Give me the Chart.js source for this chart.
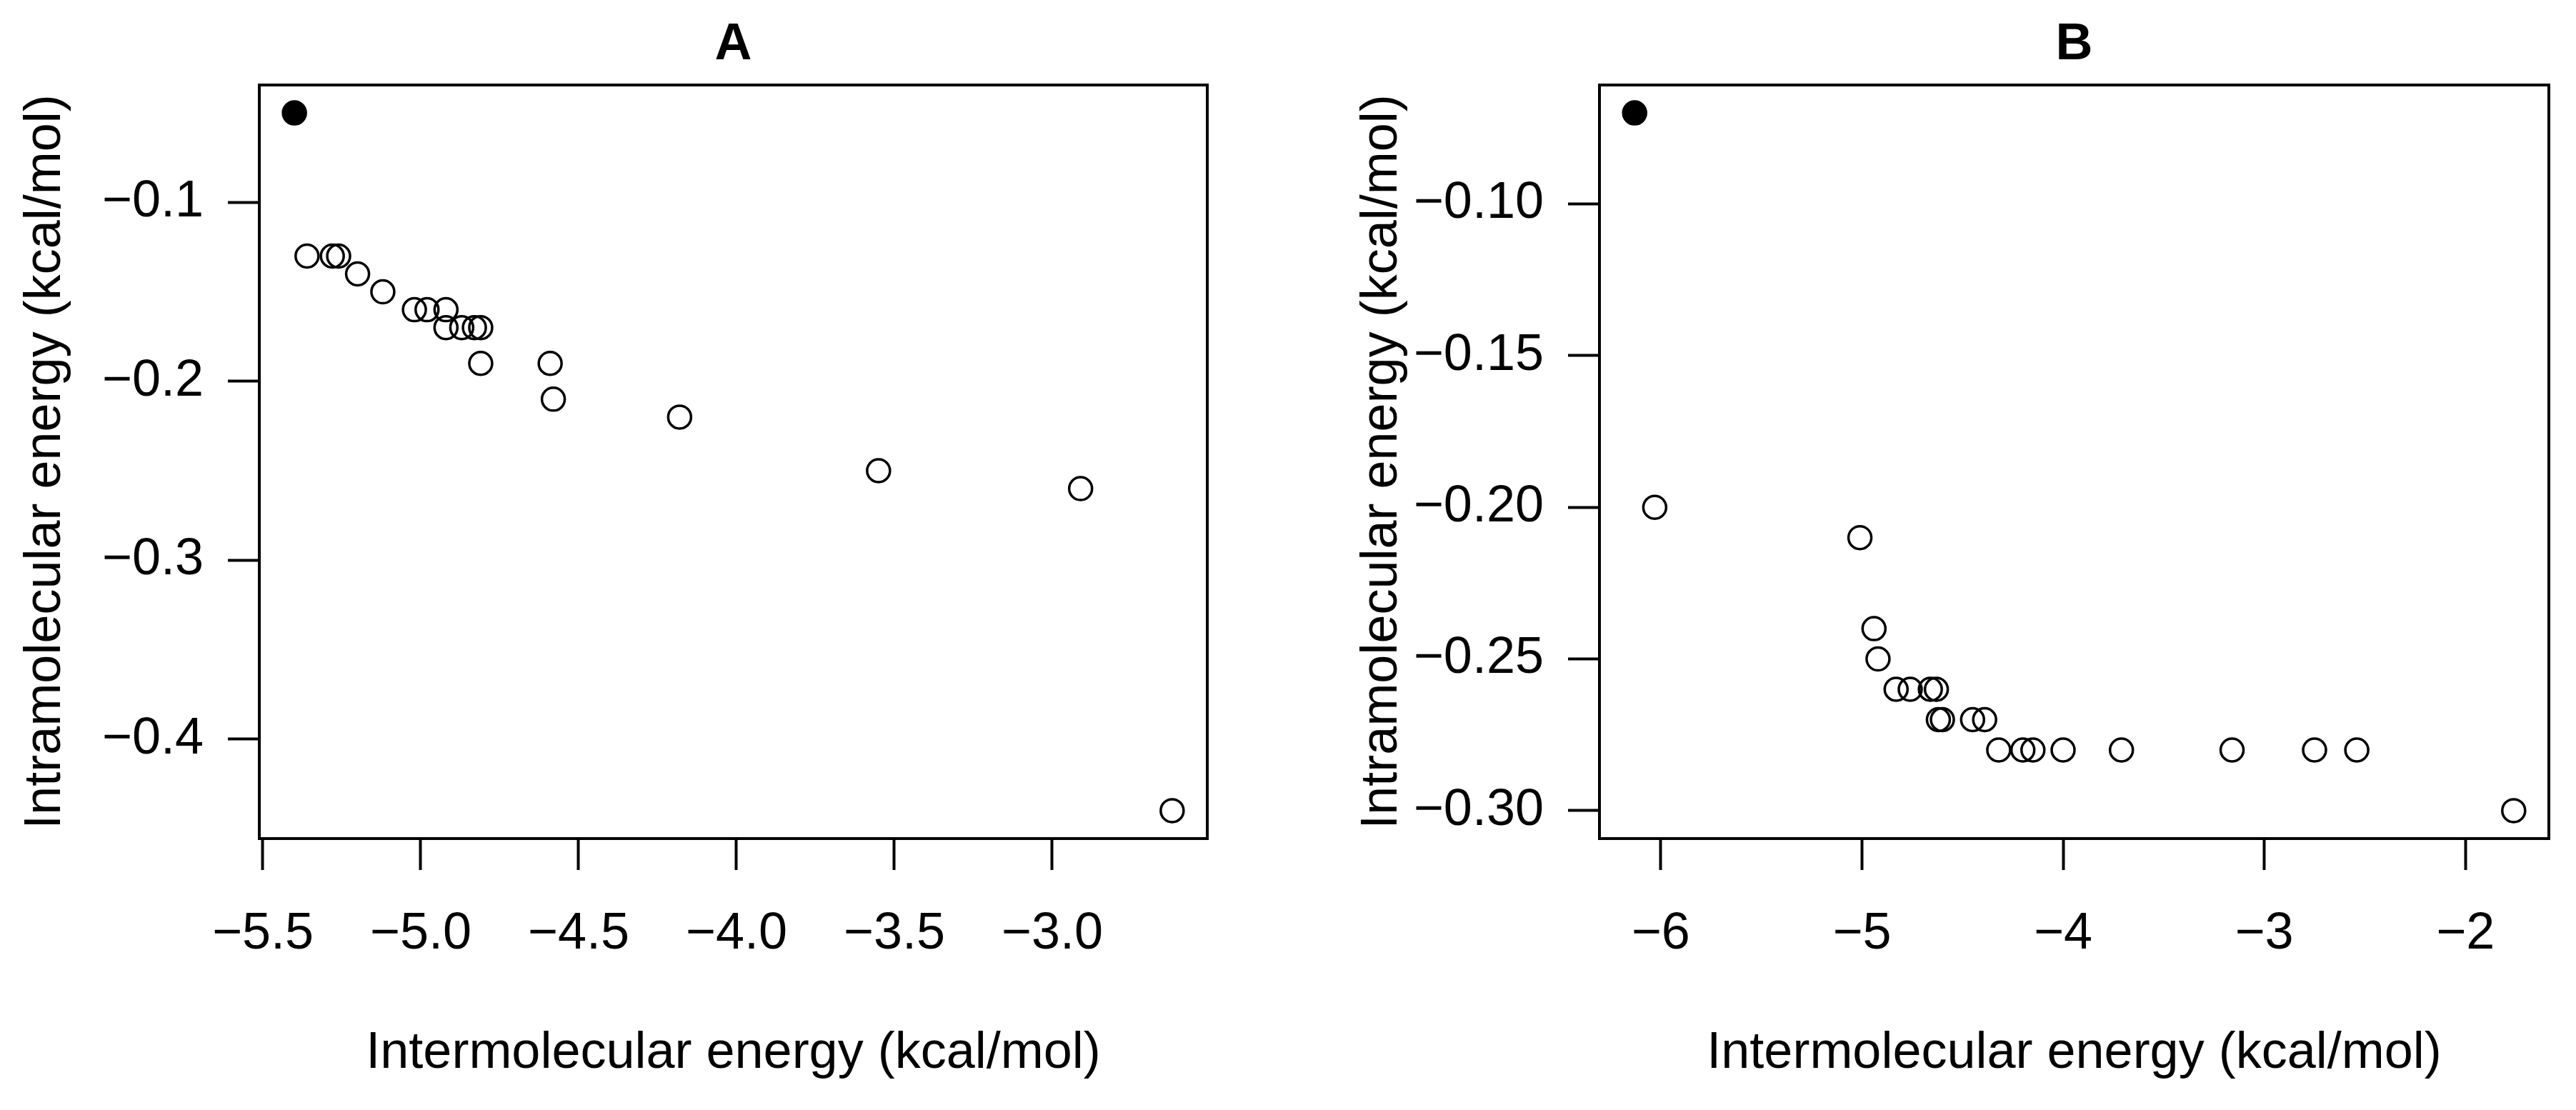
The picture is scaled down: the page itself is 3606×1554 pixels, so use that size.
<!DOCTYPE html>
<html>
<head>
<meta charset="utf-8">
<script src="https://cdn.jsdelivr.net/npm/chart.js@4.4.1/dist/chart.umd.min.js"></script>
<style>
  html, body { margin: 0; padding: 0; background: #fff; }
  .panel { position: absolute; top: 0; width: 1803px; height: 1554px; }
</style>
</head>
<body>
<div class="panel" style="left:0"><canvas id="chartA" width="1803" height="1554"></canvas></div>
<div class="panel" style="left:1803px"><canvas id="chartB" width="1803" height="1554"></canvas></div>
<script>
// panel A: best pose (filled) and the other poses (open)
const aBestX = [-5.40];
const aBestY = [-0.05];
const aX = [-5.36, -5.28, -5.26, -5.20, -5.12, -5.02, -4.98, -4.92, -4.92, -4.87, -4.83, -4.81, -4.81, -4.59, -4.58, -4.18, -3.55, -2.91, -2.62];
const aY = [-0.13, -0.13, -0.13, -0.14, -0.15, -0.16, -0.16, -0.16, -0.17, -0.17, -0.17, -0.17, -0.19, -0.19, -0.21, -0.22, -0.25, -0.26, -0.44];
const aXTicks = [-5.5, -5.0, -4.5, -4.0, -3.5, -3.0];
const aXLabels = ["\u22125.5", "\u22125.0", "\u22124.5", "\u22124.0", "\u22123.5", "\u22123.0"];
const aYTicks = [-0.1, -0.2, -0.3, -0.4];
const aYLabels = ["\u22120.1", "\u22120.2", "\u22120.3", "\u22120.4"];

// panel B
const bBestX = [-6.13];
const bBestY = [-0.07];
const bX = [-6.03, -5.01, -4.94, -4.92, -4.83, -4.76, -4.66, -4.63, -4.62, -4.60, -4.45, -4.39, -4.32, -4.20, -4.15, -4.00, -3.71, -3.16, -2.75, -2.54, -1.76];
const bY = [-0.20, -0.21, -0.24, -0.25, -0.26, -0.26, -0.26, -0.26, -0.27, -0.27, -0.27, -0.27, -0.28, -0.28, -0.28, -0.28, -0.28, -0.28, -0.28, -0.28, -0.30];
const bXTicks = [-6, -5, -4, -3, -2];
const bXLabels = ["\u22126", "\u22125", "\u22124", "\u22123", "\u22122"];
const bYTicks = [-0.10, -0.15, -0.20, -0.25, -0.30];
const bYLabels = ["\u22120.10", "\u22120.15", "\u22120.20", "\u22120.25", "\u22120.30"];

const xTitle = "Intermolecular energy (kcal/mol)";
const yTitle = "Intramolecular energy (kcal/mol)";
const FONT = "'Liberation Sans', Arial, Helvetica, sans-serif";

function toPoints(xs, ys) {
  return xs.map((x, i) => ({ x: x, y: ys[i] }));
}

// R style axis range: data range stretched by 4% on each side
function rRange(values) {
  const lo = Math.min(...values), hi = Math.max(...values);
  const d = (hi - lo) * 0.04;
  return [lo - d, hi + d];
}

const boxPlugin = {
  id: "box",
  afterDraw(chart) {
    const a = chart.chartArea, ctx = chart.ctx;
    ctx.save();
    ctx.strokeStyle = "#000";
    ctx.lineWidth = 4;
    ctx.strokeRect(a.left, a.top, a.right - a.left, a.bottom - a.top);
    ctx.restore();
  }
};

function makePanel(id, title, bx, by, xs, ys, xt, xl, yt, yl, yAxisWidth, rightPad, yTitlePad) {
  const xr = rRange(bx.concat(xs));
  const yr = rRange(by.concat(ys));
  new Chart(document.getElementById(id), {
    type: "scatter",
    data: {
      datasets: [
        {
          data: toPoints(xs, ys),
          pointStyle: "circle",
          pointRadius: 16,
          pointBorderWidth: 3.5,
          pointBorderColor: "#000",
          pointBackgroundColor: "rgba(0,0,0,0)"
        },
        {
          data: toPoints(bx, by),
          pointStyle: "circle",
          pointRadius: 16,
          pointBorderWidth: 3.5,
          pointBorderColor: "#000",
          pointBackgroundColor: "#000"
        }
      ]
    },
    options: {
      responsive: false,
      animation: false,
      events: [],
      layout: { padding: { left: 0, right: rightPad, top: 0, bottom: 0 } },
      plugins: {
        legend: { display: false },
        tooltip: { enabled: false },
        title: {
          display: true,
          text: title,
          fullSize: false,
          color: "#000",
          font: { family: FONT, size: 72, weight: "bold" },
          padding: { top: 20, bottom: 12.6 }
        }
      },
      scales: {
        x: {
          type: "linear",
          min: xr[0],
          max: xr[1],
          afterFit(s) { s.height = 380; },
          afterBuildTicks(s) { s.ticks = xt.map(v => ({ value: v })); },
          grid: { drawOnChartArea: false, drawTicks: true, tickLength: 44, tickWidth: 4, tickColor: "#000" },
          border: { display: false },
          ticks: {
            autoSkip: false,
            maxRotation: 0,
            padding: 47,
            color: "#000",
            font: { family: FONT, size: 72 },
            callback: (v, i) => xl[i]
          },
          title: {
            display: true,
            text: xTitle,
            color: "#000",
            font: { family: FONT, size: 72 },
            padding: { top: 0, bottom: 36 }
          }
        },
        y: {
          type: "linear",
          min: yr[0],
          max: yr[1],
          afterFit(s) { s.width = yAxisWidth; },
          afterBuildTicks(s) { s.ticks = yt.map(v => ({ value: v })); },
          grid: { drawOnChartArea: false, drawTicks: true, tickLength: 44, tickWidth: 4, tickColor: "#000" },
          border: { display: false },
          ticks: {
            autoSkip: false,
            padding: 34,
            color: "#000",
            font: { family: FONT, size: 72 },
            callback: (v, i) => yl[i]
          },
          title: {
            display: true,
            text: yTitle,
            color: "#000",
            font: { family: FONT, size: 72 },
            padding: { top: yTitlePad, bottom: 0 }
          }
        }
      }
    },
    plugins: [boxPlugin]
  });
}

makePanel("chartA", "A", aBestX, aBestY, aX, aY, aXTicks, aXLabels, aYTicks, aYLabels, 363, 113, 21);
makePanel("chartB", "B", bBestX, bBestY, bX, bY, bXTicks, bXLabels, bYTicks, bYLabels, 436, 38, 89);
</script>
</body>
</html>
